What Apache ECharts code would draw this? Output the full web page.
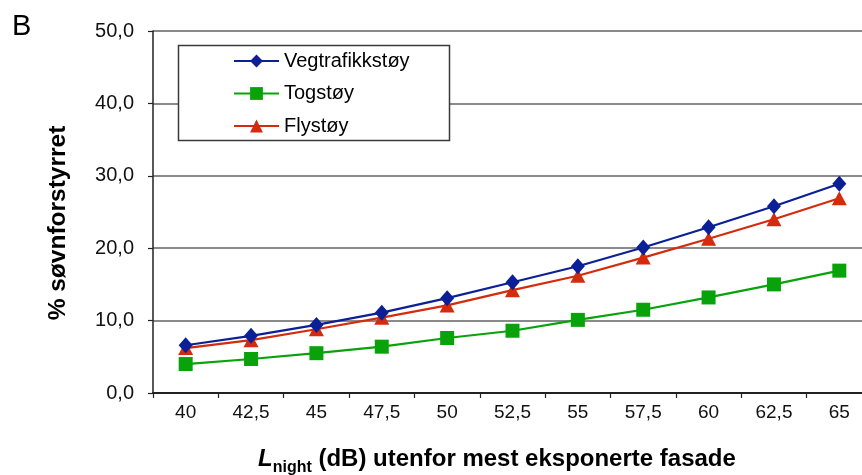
<!DOCTYPE html>
<html>
<head>
<meta charset="utf-8">
<script src="https://cdn.jsdelivr.net/npm/echarts@6/dist/echarts.min.js"></script>
<style>
  html, body { margin: 0; padding: 0; background: #fff; }
  #chart { width: 862px; height: 475px; }
</style>
</head>
<body>
<div id="chart"></div>
<script>
// Night-time noise level at the most exposed facade (dB)
const levels = ['40', '42,5', '45', '47,5', '50', '52,5', '55', '57,5', '60', '62,5', '65'];

// Percentage highly sleep-disturbed, per noise source
const roadTraffic = [6.6, 7.9, 9.4, 11.1, 13.1, 15.3, 17.5, 20.1, 22.9, 25.8, 28.9];
const railway     = [4.0, 4.7, 5.5, 6.4, 7.6, 8.6, 10.1, 11.5, 13.2, 15.0, 16.9];
const aircraft    = [6.2, 7.3, 8.8, 10.4, 12.1, 14.2, 16.2, 18.7, 21.3, 24.0, 26.9];

const seriesNames = ['Vegtrafikkstøy', 'Togstøy', 'Flystøy'];
const yTicks = { min: 0, max: 50, step: 10 };

const FONT = '"Liberation Sans", Arial, Helvetica, sans-serif';
const colors = ['#0b1f96', '#08a30a', '#d42b0c'];
const symbols = ['diamond', 'rect', 'triangle'];
const symbolSizes = [[14, 16], 14, [15, 14]];
const values = [roadTraffic, railway, aircraft];

const chart = echarts.init(document.getElementById('chart'), null, { renderer: 'canvas' });

chart.setOption({
  backgroundColor: '#fff',
  animation: false,
  // the plot runs past the right edge of the canvas, so do not fit it inside
  grid: { left: 153, top: 31, width: 719, bottom: 82, containLabel: false, outerBoundsMode: 'none' },
  xAxis: {
    type: 'category',
    data: levels,
    boundaryGap: true,
    axisLine: { show: true, lineStyle: { color: '#222', width: 2 } },
    axisTick: { show: true, length: 5, inside: false, lineStyle: { color: '#222', width: 1.2 } },
    axisLabel: { margin: 10, fontSize: 19, color: '#111', fontFamily: FONT },
    splitLine: { show: false }
  },
  yAxis: {
    type: 'value',
    min: yTicks.min,
    max: yTicks.max,
    interval: yTicks.step,
    axisLine: { show: true, lineStyle: { color: '#222', width: 1.5 } },
    axisTick: { show: true, length: 5, lineStyle: { color: '#222', width: 1.2 } },
    axisLabel: {
      margin: 19, fontSize: 20, color: '#111', fontFamily: FONT,
      formatter: v => v.toFixed(1).replace('.', ',')
    },
    splitLine: { show: true, lineStyle: { color: '#8a8a8a', width: 2 } }
  },
  legend: {
    data: seriesNames,
    orient: 'vertical',
    left: 233,
    top: 51,
    padding: 0,
    itemWidth: 45,
    itemHeight: 16,
    itemGap: 12.5,
    z: 20,
    textStyle: { fontSize: 20, color: '#000', fontFamily: FONT, lineHeight: 20 }
  },
  title: {
    left: 258,
    top: 443,
    padding: 0,
    text: '{L|L}{sub|night}{t| (dB) utenfor mest eksponerte fasade}',
    textStyle: {
      rich: {
        L: { fontSize: 24, fontWeight: 'bold', fontStyle: 'italic', fontFamily: FONT, color: '#000', lineHeight: 28, verticalAlign: 'bottom' },
        sub: { fontSize: 16, fontWeight: 'bold', fontFamily: FONT, color: '#000', lineHeight: 16, verticalAlign: 'bottom', padding: [0, 0, -5, 0] },
        t: { fontSize: 24, fontWeight: 'bold', fontFamily: FONT, color: '#000', lineHeight: 28, verticalAlign: 'bottom' }
      }
    }
  },
  graphic: [
    {
      type: 'rect', z: 10,
      shape: { x: 178.5, y: 45.5, width: 271, height: 95 },
      style: { fill: '#fff', stroke: '#3a3a3a', lineWidth: 1.5 }
    },
    {
      type: 'text', z: 10,
      x: 58, y: 223, rotation: Math.PI / 2,
      style: {
        text: '% søvnforstyrret',
        font: 'bold 24.5px ' + FONT,
        fill: '#000',
        align: 'center',
        verticalAlign: 'middle'
      }
    },
    {
      type: 'text', z: 10,
      x: 12, y: 12,
      style: { text: 'B', font: '29px ' + FONT, fill: '#000' }
    }
  ],
  series: seriesNames.map((name, i) => ({
    name,
    type: 'line',
    data: values[i],
    color: colors[i],
    symbol: symbols[i],
    symbolSize: symbolSizes[i],
    showSymbol: true,
    lineStyle: { width: 2.2, color: colors[i] },
    itemStyle: { color: colors[i] },
    z: 5 + (2 - i)
  }))
});
</script>
</body>
</html>
